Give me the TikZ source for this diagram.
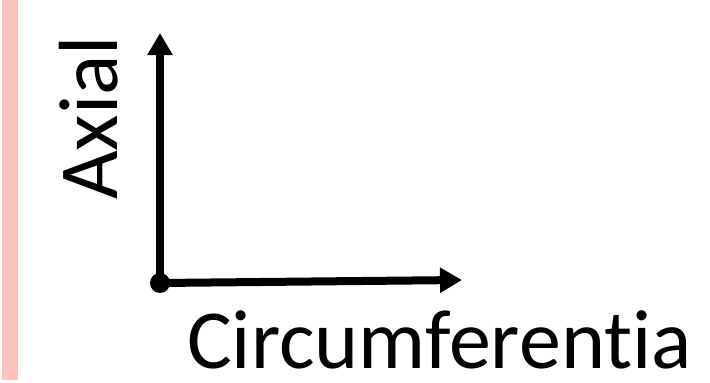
\documentclass[tikz,border=0pt]{standalone}
\usepackage{fontspec}
\setmainfont[Ligatures=NoCommon]{Carlito}
\usetikzlibrary{arrows.meta}
\definecolor{stripcol}{HTML}{FFC0C0}
\tikzset{
  axisline/.style={line width=8pt, -{Triangle[length=22pt,width=24pt]}},
  lbl/.style={inner sep=0pt, text depth=0pt, font=\fontsize{84}{90}\selectfont}
}
\begin{document}
\begin{tikzpicture}[x=1pt,y=-1pt]
\useasboundingbox (0,0) rectangle (710,383);
\fill[white] (0,0) rectangle (710,383);
\fill[stripcol] (2,0) rectangle (18,380);
\node[circle, fill=black, minimum size=20pt, inner sep=0pt] (o) at (160,283) {};
\coordinate (ytip) at (160,33);
\coordinate (xtip) at (462,280);
\draw[axisline] (o.center) -- (ytip);
\draw[axisline] (o.center) -- (xtip);
\node[lbl, rotate=90, anchor=base west] (ax) at (117,200) {Axial};
\node[lbl, anchor=base west] (circ) at (187,368) {Circumferentia};
\end{tikzpicture}
\end{document}
